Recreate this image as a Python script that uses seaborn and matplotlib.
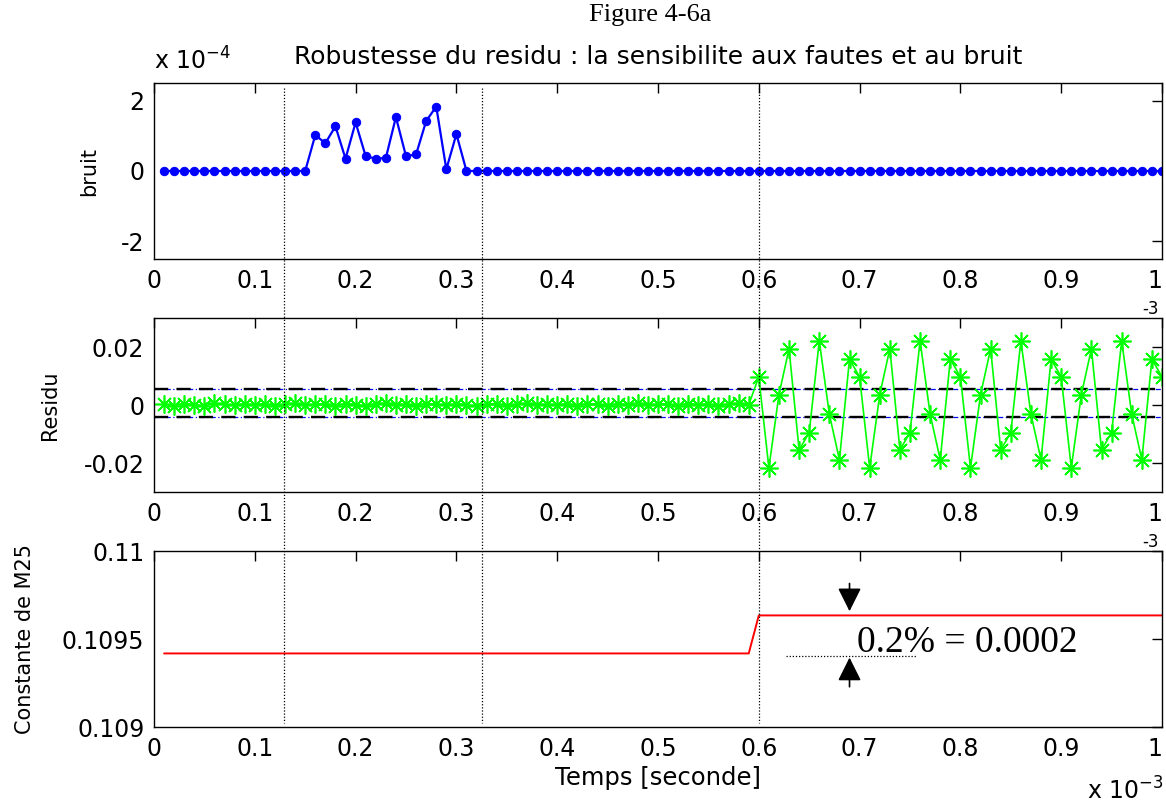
"""
Figure 4-6a : robustesse du residu (bruit, residu, constante de M25).
"""

import numpy as np
import matplotlib
matplotlib.use("Agg")
import matplotlib.pyplot as plt
import matplotlib.transforms as mtransforms
from matplotlib.lines import Line2D
from matplotlib.ticker import FuncFormatter
import seaborn as sns

# ── Data ───────────────────────────────────────────────────
# time axis, in units of 10^-3 s (one sample every 0.01)
temps = np.round(np.arange(1, 101) * 0.01, 2)

# noise injected between 0.16 and 0.30 (values in 10^-4)
bruit_e4 = [0.0] * 15 + [1.02, 0.79, 1.27, 0.35, 1.38, 0.42, 0.35, 0.37,
                         1.53, 0.42, 0.47, 1.42, 1.83, 0.05, 1.05] + [0.0] * 70
bruit = [v * 1e-4 for v in bruit_e4]

# residual : small jitter before the fault, oscillation after t = 0.6
residu_avant = [
    0.0003, -0.0002, 0.0005, 0.0001, -0.0003, 0.0006, 0.0002, -0.0001, 0.0004, 0.0000,
    0.0005, -0.0002, 0.0003, 0.0006, -0.0001, 0.0002, 0.0004, -0.0003, 0.0005, 0.0001,
    -0.0002, 0.0004, 0.0006, 0.0000, 0.0003, -0.0003, 0.0005, 0.0002, -0.0001, 0.0004,
    0.0001, -0.0004, 0.0003, 0.0005, -0.0002, 0.0002, 0.0006, -0.0001, 0.0003, 0.0000,
    0.0004, -0.0002, 0.0005, 0.0002, -0.0003, 0.0004, 0.0001, 0.0006, -0.0001, 0.0003,
    0.0002, -0.0002, 0.0005, 0.0001, 0.0004, -0.0003, 0.0003, 0.0006, 0.0001,
]
residu_apres = [
    0.0097, -0.0217, 0.0036, 0.0194, -0.0155, -0.0095, 0.0221, -0.0032, -0.0189, 0.0158,
    0.0097, -0.0217, 0.0036, 0.0194, -0.0155, -0.0095, 0.0221, -0.0032, -0.0189, 0.0158,
    0.0097, -0.0217, 0.0036, 0.0194, -0.0155, -0.0095, 0.0221, -0.0032, -0.0189, 0.0158,
    0.0097, -0.0217, 0.0036, 0.0194, -0.0155, -0.0095, 0.0221, -0.0032, -0.0189, 0.0158,
    0.0097,
]
residu = residu_avant + residu_apres
seuil_haut = 0.0055
seuil_bas = -0.0043

# M25 constant : +0.2 % step at t = 0.6
m25_avant, m25_apres = 0.109418, 0.109634
constante_m25 = [m25_avant] * 59 + [m25_apres] * 41

# instants marked with vertical dotted lines
instants = [0.129, 0.325, 0.6]

x_ticks = [0, 0.1, 0.2, 0.3, 0.4, 0.5, 0.6, 0.7, 0.8, 0.9, 1]
x_labels = ["0", "0.1", "0.2", "0.3", "0.4", "0.5", "0.6", "0.7", "0.8", "0.9", "1"]

# ── Style ──────────────────────────────────────────────────
sns.set_theme(style="white", rc={
    "axes.edgecolor": "black",
    "axes.linewidth": 1.0,
    "axes.labelcolor": "black",
    "text.color": "black",
    "xtick.color": "black",
    "ytick.color": "black",
    "xtick.direction": "in",
    "ytick.direction": "in",
})
plt.rcParams["font.family"] = ["DejaVu Sans"]

W, H = 1166, 805
fig = plt.figure(figsize=(W / 100, H / 100), dpi=100)


def box(left, top, right, bottom):
    return [left / W, 1 - bottom / H, (right - left) / W, (bottom - top) / H]


ax1 = fig.add_axes(box(154, 83, 1162, 259))
ax2 = fig.add_axes(box(154, 318, 1162, 492))
ax3 = fig.add_axes(box(154, 551, 1162, 727))

# ── Panels ─────────────────────────────────────────────────
sns.lineplot(x=temps, y=bruit, ax=ax1, color="#0000ff", linewidth=1.6,
             marker="o", markersize=6, markeredgecolor="#0000ff")
ax1.set_ylim(-2.5e-4, 2.5e-4)
ax1.set_yticks([-2e-4, 0, 2e-4])
ax1.yaxis.set_major_formatter(FuncFormatter(lambda v, _: f"{v * 1e4:g}"))
ax1.set_ylabel("bruit")

for y in (seuil_haut, seuil_bas):
    ax2.axhline(y, color="#0000ff", linestyle=(0, (4, 2, 1, 2)), linewidth=0.9)
    ax2.axhline(y, color="black", linestyle=(0, (6, 3.5)), linewidth=1.7)
sns.lineplot(x=temps, y=residu, ax=ax2, color="#00ff00", linewidth=1.2,
             marker=(8, 2, 0), markersize=13, markeredgewidth=1.2,
             markeredgecolor="#00ff00")
ax2.set_ylim(-0.03, 0.03)
ax2.set_yticks([-0.02, 0, 0.02])
ax2.set_yticklabels(["-0.02", "0", "0.02"])
ax2.set_ylabel("Residu")

sns.lineplot(x=temps, y=constante_m25, ax=ax3, color="#ff0000", linewidth=1.4)
ax3.set_ylim(0.109, 0.110)
ax3.set_yticks([0.109, 0.1095, 0.110])
ax3.set_yticklabels(["0.109", "0.1095", "0.11"])
ax3.set_ylabel("Constante de M25")
ax3.set_xlabel("Temps [seconde]", fontsize=17.5, labelpad=4)

for ax, lab_x in ((ax1, -0.054), (ax2, -0.093), (ax3, -0.118)):
    ax.set_xlim(0, 1)
    ax.set_xticks(x_ticks)
    ax.set_xticklabels(x_labels)
    ax.get_xticklabels()[-1].set_horizontalalignment("right")
    ax.get_xticklabels()[-1].set_x(1.004)
    ax.tick_params(axis="both", which="major", labelsize=17, length=7, width=1,
                   top=True, right=True, pad=7)
    ax.yaxis.label.set_size(15)
    ax.yaxis.set_label_coords(lab_x, 0.5)
    ax.grid(False)

# ── Annotations ────────────────────────────────────────────
ax1.set_title("Robustesse du residu : la sensibilite aux fautes et au bruit",
              fontsize=18, pad=14)
ax1.text(0.0, 1.05, r"x 10$^{-4}$", transform=ax1.transAxes, fontsize=17,
         ha="left", va="bottom")
ax3.text(0.926, -0.41, r"x 10$^{-3}$", transform=ax3.transAxes, fontsize=17,
         ha="left", va="baseline")
for ax in (ax2, ax3):
    ax.text(0.997, 1.0, "-3", transform=ax.transAxes, fontsize=12,
            ha="right", va="bottom")

fig.text(0.5575, 0.981, "Figure 4-6a", ha="center", va="center",
         fontsize=19, family="Liberation Serif")

# step size annotation on the M25 panel
x_fl = 0.69
arrow = dict(arrowstyle="-|>,head_length=1.2,head_width=0.6",
             color="black", lw=1.2, shrinkA=0, shrinkB=3)
ax3.annotate("", xy=(x_fl, m25_apres), xytext=(0, 23), textcoords="offset points",
             arrowprops=arrow)
ax3.annotate("", xy=(x_fl, m25_avant), xytext=(0, -24), textcoords="offset points",
             arrowprops=arrow)
ax3.hlines(m25_avant - 0.000013, 0.627, 0.756, colors="black",
           linestyles=(0, (1, 1.5)), linewidth=0.9)
ax3.text(0.697, m25_avant + 0.000008, "0.2% = 0.0002", fontsize=27,
         family="Liberation Serif", ha="left", va="baseline")

# vertical dotted lines running through the three panels
trans = mtransforms.blended_transform_factory(ax3.transData, fig.transFigure)
for t in instants:
    fig.add_artist(Line2D([t, t], [1 - 88 / H, 1 - 723 / H], transform=trans,
                          color="black", linestyle=(0, (1, 1.5)), linewidth=0.9))

fig.savefig("out.png", dpi=100)
